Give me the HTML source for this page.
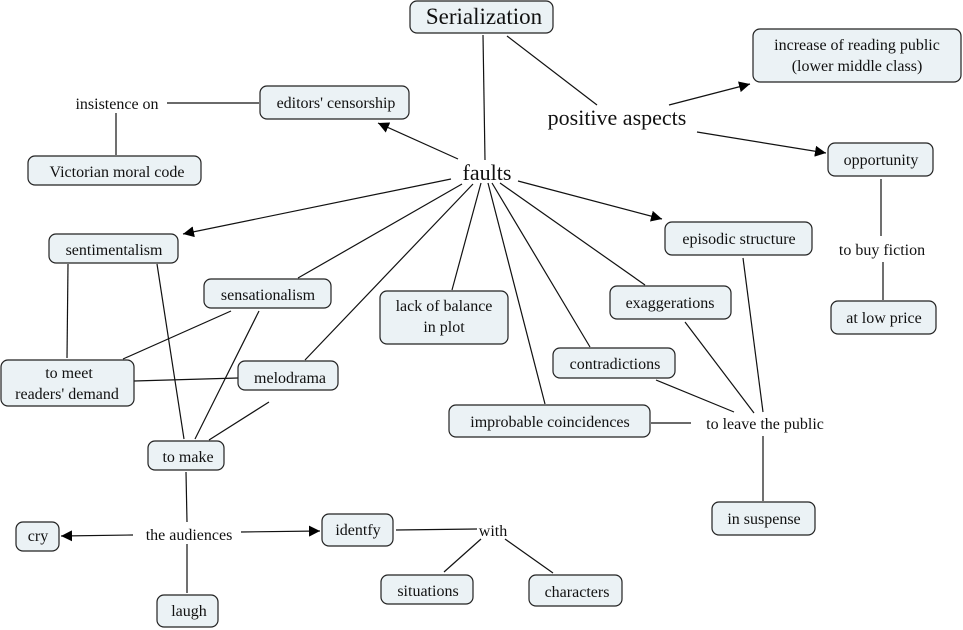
<!DOCTYPE html>
<html><head><meta charset="utf-8"><style>
html,body{margin:0;padding:0;background:#fff;}
svg{display:block;}
text{font-family:"Liberation Serif",serif;fill:#111;}
rect{fill:#ebf2f5;stroke:#222;stroke-width:1.2;}
line{stroke:#111;stroke-width:1.2;}
</style></head><body>
<svg width="963" height="630" viewBox="0 0 963 630" xmlns="http://www.w3.org/2000/svg">
<defs><marker id="a" viewBox="0 0 10 10" refX="10" refY="5" markerWidth="11" markerHeight="11" markerUnits="userSpaceOnUse" orient="auto"><path d="M0,0L10,5L0,10z" fill="#000"/></marker></defs>
<g>
<line x1="483" y1="35" x2="485" y2="160"/>
<line x1="507" y1="36" x2="597" y2="105"/>
<line x1="669" y1="105" x2="750" y2="84" marker-end="url(#a)"/>
<line x1="697" y1="132" x2="826" y2="153" marker-end="url(#a)"/>
<line x1="881" y1="179" x2="881" y2="236"/>
<line x1="883" y1="262" x2="883" y2="300"/>
<line x1="458" y1="159" x2="378" y2="123" marker-end="url(#a)"/>
<line x1="451" y1="179" x2="183" y2="234" marker-end="url(#a)"/>
<line x1="462" y1="184" x2="298" y2="278"/>
<line x1="473" y1="184" x2="305" y2="360"/>
<line x1="481" y1="183" x2="452" y2="290"/>
<line x1="488" y1="183" x2="545" y2="404"/>
<line x1="492" y1="183" x2="590" y2="347"/>
<line x1="500" y1="183" x2="645" y2="285"/>
<line x1="518" y1="181" x2="662" y2="219" marker-end="url(#a)"/>
<line x1="167" y1="103" x2="259" y2="103"/>
<line x1="116" y1="113" x2="116" y2="155"/>
<line x1="68" y1="264" x2="67" y2="358"/>
<line x1="157" y1="264" x2="184" y2="439"/>
<line x1="231" y1="311" x2="123" y2="359"/>
<line x1="259" y1="311" x2="195" y2="439"/>
<line x1="238" y1="378" x2="134" y2="381"/>
<line x1="269" y1="402" x2="209" y2="440"/>
<line x1="186" y1="472" x2="187" y2="522"/>
<line x1="133" y1="535" x2="61" y2="536" marker-end="url(#a)"/>
<line x1="241" y1="532" x2="320" y2="531" marker-end="url(#a)"/>
<line x1="187" y1="544" x2="187" y2="593"/>
<line x1="396" y1="530" x2="477" y2="529"/>
<line x1="481" y1="539" x2="444" y2="572"/>
<line x1="505" y1="539" x2="553" y2="573"/>
<line x1="685" y1="322" x2="754" y2="413"/>
<line x1="743" y1="258" x2="763" y2="412"/>
<line x1="656" y1="380" x2="734" y2="412"/>
<line x1="651" y1="423" x2="691" y2="423"/>
<line x1="763" y1="436" x2="763" y2="501"/>
</g>
<g>
<rect x="410" y="1" width="143" height="32" rx="7"/>
<rect x="753" y="29" width="208" height="53" rx="7"/>
<rect x="260" y="86" width="149" height="33" rx="7"/>
<rect x="28" y="156" width="173" height="29" rx="7"/>
<rect x="828" y="143" width="105" height="33" rx="7"/>
<rect x="665" y="222" width="147" height="33" rx="7"/>
<rect x="831" y="301" width="105" height="33" rx="7"/>
<rect x="49" y="234" width="129" height="29" rx="7"/>
<rect x="204" y="279" width="127" height="29" rx="7"/>
<rect x="380" y="291" width="128" height="53" rx="7"/>
<rect x="610" y="286" width="121" height="33" rx="7"/>
<rect x="553" y="348" width="122" height="30" rx="7"/>
<rect x="1" y="360" width="133" height="46" rx="7"/>
<rect x="238" y="361" width="100" height="29" rx="7"/>
<rect x="449" y="405" width="201" height="32" rx="7"/>
<rect x="148" y="441" width="76" height="29" rx="7"/>
<rect x="712" y="502" width="103" height="33" rx="7"/>
<rect x="16" y="522" width="43" height="29" rx="7"/>
<rect x="322" y="514" width="71" height="32" rx="7"/>
<rect x="381" y="575" width="92" height="29" rx="7"/>
<rect x="529" y="575" width="93" height="31" rx="7"/>
<rect x="157" y="595" width="61" height="32" rx="7"/>
</g>
<g text-anchor="middle" font-size="16">
<text x="484" y="24" font-size="23">Serialization</text>
<text x="857" y="50">increase of reading public</text>
<text x="857" y="71">(lower middle class)</text>
<text x="617" y="125" font-size="22">positive aspects</text>
<text x="336" y="108">editors' censorship</text>
<text x="117" y="109">insistence on</text>
<text x="117" y="177">Victorian moral code</text>
<text x="487" y="180" font-size="22">faults</text>
<text x="881" y="165">opportunity</text>
<text x="739" y="244">episodic structure</text>
<text x="882" y="255">to buy fiction</text>
<text x="884" y="323">at low price</text>
<text x="114" y="255">sentimentalism</text>
<text x="268" y="300">sensationalism</text>
<text x="444" y="311">lack of balance</text>
<text x="444" y="332">in plot</text>
<text x="670" y="308">exaggerations</text>
<text x="615" y="369">contradictions</text>
<text x="69" y="378">to meet</text>
<text x="67" y="399">readers' demand</text>
<text x="290" y="383">melodrama</text>
<text x="550" y="427">improbable coincidences</text>
<text x="765" y="429">to leave the public</text>
<text x="188" y="462">to make</text>
<text x="764" y="524">in suspense</text>
<text x="38" y="541">cry</text>
<text x="189" y="540">the audiences</text>
<text x="358" y="535">identfy</text>
<text x="493" y="536">with</text>
<text x="428" y="596">situations</text>
<text x="577" y="597">characters</text>
<text x="189" y="616">laugh</text>
</g>
</svg>
</body></html>
